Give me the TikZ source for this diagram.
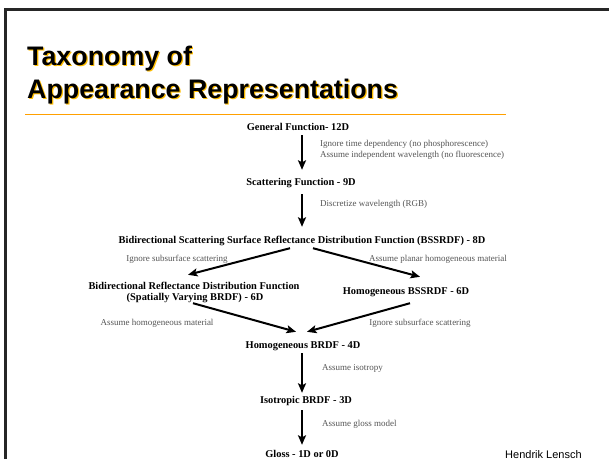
\documentclass[tikz,border=0pt]{standalone}
\usepackage{fontspec}
\setmainfont{Liberation Serif}
\newfontfamily\slidefont{Liberation Sans}
\usetikzlibrary{arrows.meta}

\tikzset{
	stage/.style={anchor=base, inner sep=0pt, text height=7pt, text depth=2pt, font=\fontsize{10.4}{12}\selectfont\bfseries},
	remark/.style={anchor=base, inner sep=0pt, text=remarkgray, font=\fontsize{9}{11}\selectfont},
	arr/.style={-{Stealth[length=9.5pt,width=8pt,inset=2pt]}, line width=2pt},
	headline/.style={anchor=base west, inner sep=0pt, font=\slidefont\fontsize{26.8}{32}\selectfont\bfseries}
}

\begin{document}
\begin{tikzpicture}[x=1pt,y=-1pt]
	\definecolor{titleorange}{RGB}{255, 160, 0}
	\definecolor{shadowyellow}{RGB}{255, 190, 0}
	\definecolor{remarkgray}{RGB}{85, 85, 85}

	\useasboundingbox (0,0) rectangle (609,459);
	\fill[white] (0,0) rectangle (609,459);

	% slide frame and title
	\draw[line width=3pt, black!85] (5,459) -- (5,9) -- (609,9);
	\node[headline, text=shadowyellow] (titleAsh) at (28.2,66.2) {Taxonomy of};
	\node[headline] (titleA) at (27,65) {Taxonomy of};
	\node[headline, text=shadowyellow] (titleBsh) at (28.2,99.2) {Appearance Representations};
	\node[headline] (titleB) at (27,98) {Appearance Representations};
	\draw[titleorange, line width=1pt] (25,114) -- (506,114);

	% stages
	\node[stage] (gen) at (298,130) {General Function- 12D};
	\node[stage] (scat) at (301,185) {Scattering Function - 9D};
	\node[stage] (bss) at (302,243) {Bidirectional Scattering Surface Reflectance Distribution Function (BSSRDF) - 8D};
	\node[stage] (brdfa) at (194,289) {Bidirectional Reflectance Distribution Function};
	\node[stage] (brdfb) at (195,300) {(Spatially Varying BRDF) - 6D};
	\node[stage] (hbss) at (406,294) {Homogeneous BSSRDF - 6D};
	\node[stage] (hbrdf) at (303,348) {Homogeneous BRDF - 4D};
	\node[stage] (iso) at (306,403) {Isotropic BRDF - 3D};
	\node[stage] (gloss) at (302,457) {Gloss - 1D or 0D};

	% connectors
	\draw[arr] ([yshift=-3pt]gen.south -| bss.south) -- ([yshift=8pt]scat.north -| bss.south);
	\draw[arr] ([yshift=-7pt]scat.south -| bss.south) -- ([yshift=9pt]bss.north);
	\draw[arr] ([xshift=-12pt,yshift=-3pt]bss.south) -- ([xshift=-6pt,yshift=7pt]brdfa.north);
	\draw[arr] ([xshift=11pt,yshift=-3pt]bss.south) -- ([xshift=14pt,yshift=10pt]hbss.north);
	\draw[arr] ([xshift=-2pt,yshift=-1pt]brdfb.south) -- ([xshift=-7pt,yshift=9pt]hbrdf.north);
	\draw[arr] ([xshift=4pt,yshift=-7pt]hbss.south) -- ([xshift=4pt,yshift=9pt]hbrdf.north);
	\draw[arr] ([yshift=-3pt]hbrdf.south -| bss.south) -- ([yshift=3pt]iso.north -| bss.south);
	\draw[arr] ([yshift=-5pt]iso.south -| bss.south) -- ([yshift=5pt]gloss.north -| bss.south);

	% remarks
	\node[remark, anchor=base west] (noPhos) at (320,146) {Ignore time dependency (no phosphorescence)};
	\node[remark, anchor=base west] (noFluo) at (320,157) {Assume independent wavelength (no fluorescence)};
	\node[remark, anchor=base west] (rgb) at (320,206) {Discretize wavelength (RGB)};
	\node[remark] (noSubL) at (177,261) {Ignore subsurface scattering};
	\node[remark] (planar) at (438,261) {Assume planar homogeneous material};
	\node[remark] (homMat) at (157,325) {Assume homogeneous material};
	\node[remark] (noSubR) at (420,325) {Ignore subsurface scattering};
	\node[remark, anchor=base west] (isotropy) at (322,370) {Assume isotropy};
	\node[remark, anchor=base west] (glossModel) at (322,426) {Assume gloss model};

	\node[anchor=base west, inner sep=0pt, font=\slidefont\fontsize{11}{13}\selectfont] (author) at (505,458) {Hendrik Lensch};
\end{tikzpicture}
\end{document}
